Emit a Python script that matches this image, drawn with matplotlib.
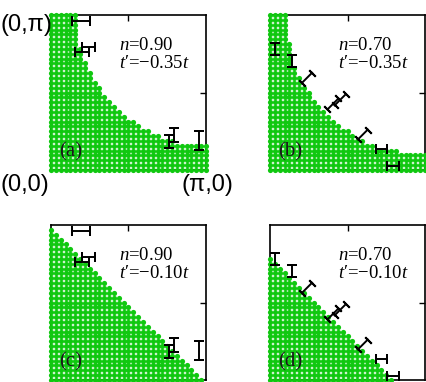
import numpy as np
import matplotlib
matplotlib.use("Agg")
import matplotlib.pyplot as plt

### data ###

# occupied k-points per column, kx = 0 .. pi (33 columns, 33 rows)
occ_a = [33, 33, 33, 33, 33, 33, 26, 23, 21, 19, 18, 16, 15, 14, 13, 12, 11,
         11, 10, 9, 9, 8, 8, 7, 7, 7, 6, 6, 6, 6, 6, 6, 6]
occ_b = [33, 33, 33, 33, 27, 22, 20, 18, 17, 15, 14, 13, 12, 11, 10, 9, 9,
         8, 7, 7, 6, 6, 5, 5, 5, 5, 5, 4, 4, 4, 4, 4, 4]
occ_c = [32, 31, 30, 29, 28, 27, 26, 25, 24, 23, 22, 21, 20, 19, 18, 17, 16,
         15, 14, 13, 12, 11, 10, 9, 8, 7, 6, 5, 4, 3, 2, 1, 0]
occ_d = [26, 25, 24, 23, 22, 21, 20, 19, 18, 17, 16, 15, 14, 13, 12, 11, 10,
         9, 8, 7, 6, 5, 4, 3, 2, 1, 0, 0, 0, 0, 0, 0, 0]

# Fermi crossings with error bars (units of pi), n=0.90
fs90_kx = [0.194, 0.197, 0.242, 0.764, 0.792, 0.955]
fs90_ky = [0.963, 0.761, 0.794, 0.184, 0.226, 0.188]
fs90_err = [0.060, 0.045, 0.043, 0.042, 0.045, 0.061]
fs90_dir = [0, 0, 0, 90, 90, 90]  # scan direction (deg)

# n=0.70
fs70_kx = [0.032, 0.142, 0.239, 0.406, 0.452, 0.599, 0.719, 0.794]
fs70_ky = [0.783, 0.705, 0.595, 0.426, 0.452, 0.229, 0.137, 0.026]
fs70_err = [0.039, 0.040, 0.045, 0.050, 0.050, 0.045, 0.037, 0.038]
fs70_dir = [90, 90, 45, 45, 45, 45, 0, 0]

labels = ["(a)", "(b)", "(c)", "(d)"]
dens = ["0.90", "0.70", "0.90", "0.70"]
tprime = ["\u22120.35", "\u22120.35", "\u22120.10", "\u22120.10"]

plt.rcParams['mathtext.fontset'] = 'custom'
plt.rcParams['mathtext.rm'] = 'Liberation Serif'
plt.rcParams['mathtext.it'] = 'Liberation Serif:italic'

green = '#10c810'
nk = 33


def plot_panel(ax, occ, kx, ky, err, sdir, lab, n, tp):
    # green dots for occupied states
    xs = []
    ys = []
    for i in range(nk):
        for j in range(occ[i]):
            xs.append(i / (nk - 1))
            ys.append(j / (nk - 1))
    ax.scatter(xs, ys, s=14, c=green, linewidths=0, zorder=3, clip_on=False)
    # error bars along scan direction
    for x, y, e, d in zip(kx, ky, err, sdir):
        dx = e * np.cos(np.radians(d))
        dy = e * np.sin(np.radians(d))
        ax.plot([x - dx, x + dx], [y - dy, y + dy], color='k', lw=1.4,
                zorder=4, clip_on=False)
        ax.plot([x - dx, x + dx], [y - dy, y + dy], ls='none', color='k',
                marker=(2, 2, d), ms=6.5, mew=1.4, zorder=4, clip_on=False)
    ax.set_xlim(0, 1)
    ax.set_ylim(0, 1)
    ax.set_xticks([0.5])
    ax.set_yticks([0.5])
    ax.tick_params(direction='in', top=True, right=True, length=4, width=1,
                   labelbottom=False, labelleft=False)
    for sp in ax.spines.values():
        sp.set_linewidth(1.2)
    ax.text(0.44, 0.805, r"$n$=" + n, fontsize=13.5,
            family='Liberation Serif', va='center', ha='left', zorder=5)
    ax.text(0.44, 0.685, r"$t$" + "\u2032=" + tp + r"$t$", fontsize=13.5,
            family='Liberation Serif', va='center', ha='left', zorder=5)
    ax.text(0.055, 0.12, lab, fontsize=15, family='Liberation Serif',
            color='#1a1a1a', va='center', ha='left', zorder=5)


fig = plt.figure(figsize=(4.27, 3.82), dpi=100)
W = 427.0
H = 382.0
boxes = [(51, 15), (270, 15), (51, 225), (270, 225)]
occs = [occ_a, occ_b, occ_c, occ_d]
sets = [(fs90_kx, fs90_ky, fs90_err, fs90_dir),
        (fs70_kx, fs70_ky, fs70_err, fs70_dir),
        (fs90_kx, fs90_ky, fs90_err, fs90_dir),
        (fs70_kx, fs70_ky, fs70_err, fs70_dir)]
for k in range(4):
    x0, y0 = boxes[k]
    ax = fig.add_axes([x0 / W, 1 - (y0 + 155) / H, 155 / W, 155 / H])
    kx, ky, err, sdir = sets[k]
    plot_panel(ax, occs[k], kx, ky, err, sdir, labels[k], dens[k], tprime[k])

# corner labels
fig.text(0 / W, 1 - 25 / H, "(0,\u03c0)", fontsize=17,
         family='Liberation Sans', va='center', ha='left')
fig.text(0 / W, 1 - 185 / H, "(0,0)", fontsize=17,
         family='Liberation Sans', va='center', ha='left')
fig.text(182 / W, 1 - 185 / H, "(\u03c0,0)", fontsize=17,
         family='Liberation Sans', va='center', ha='left')

plt.savefig("out.png", dpi=100)
plt.close()
